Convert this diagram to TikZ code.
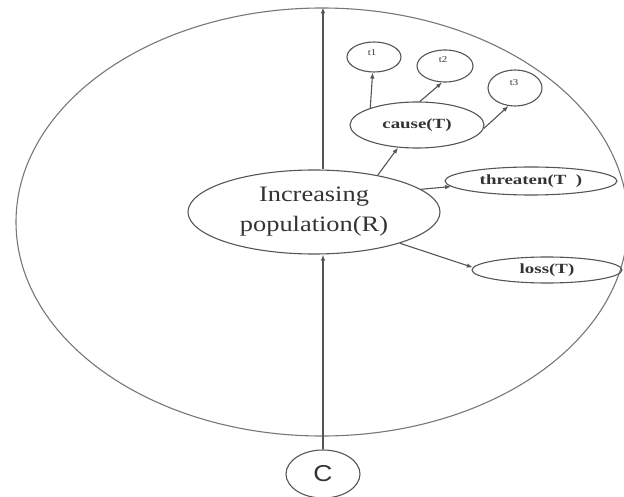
\documentclass[tikz,border=0pt]{standalone}
\usepackage{fontspec}
\setmainfont{Liberation Serif}
\newfontfamily\popfont[FakeStretch=1.2]{Liberation Serif}
\newfontfamily\labfont[FakeStretch=1.35]{Liberation Serif}
\newfontfamily\tfont[FakeStretch=1.2]{Liberation Serif}
\newfontfamily\cfont[FakeStretch=1.15]{Liberation Sans}
\usetikzlibrary{shapes.geometric,arrows.meta,calc}
\definecolor{ln}{HTML}{555555}
\definecolor{tx}{HTML}{333333}
\begin{document}
\begin{tikzpicture}[x=1pt,y=-1pt,
  oval/.style={draw=ln, line width=1.1pt, ellipse, inner sep=0pt, text=tx},
  conn/.style={draw=ln, line width=1.1pt, -{Latex[length=6pt,width=4.5pt]}},
  poptext/.style={font=\popfont\fontsize{22}{30}\selectfont, align=center},
  labtext/.style={font=\labfont\bfseries\fontsize{14}{14}\selectfont},
  ttext/.style={text=tx, inner sep=0pt, font=\tfont\fontsize{9}{9}\selectfont},
]
\useasboundingbox (0,0) rectangle (624,497);
% outer ellipse
\node[oval, draw=ln!80, minimum width=612pt, minimum height=428pt] (big) at (322,222) {};
% nodes
\node[oval, poptext, minimum width=252pt, minimum height=84pt] (pop) at (314,212) {Increasing\\population(R)};
\node[oval, minimum width=74pt, minimum height=48pt, font=\cfont\fontsize{23}{23}\selectfont] (C) at (323,474) {C};
\node[oval, labtext, minimum width=134pt, minimum height=46pt] (cause) at (417,125) {cause(T)};
\node[oval, labtext, minimum width=172pt, minimum height=28pt] (threaten) at (531,181) {threaten(T\ \ )};
\node[oval, labtext, minimum width=150pt, minimum height=26pt] (loss) at (547,270) {loss(T)};
\node[oval, minimum width=54pt, minimum height=30pt] (t1) at (374,57) {};
\node[oval, minimum width=56pt, minimum height=32pt] (t2) at (445,66) {};
\node[oval, minimum width=54pt, minimum height=36pt] (t3) at (515,88) {};
\node[ttext] (t1l) at (372,53) {t1};
\node[ttext] (t2l) at (443,60) {t2};
\node[ttext] (t3l) at (514,83) {t3};
% connectors
\draw[conn] (C.north) -- (pop.south -| C.north);
\draw[conn] (pop.north -| C.north) -- (big.north -| C.north);
\draw[conn] (pop.30) -- (cause.230);
\draw[conn] (cause.160) -- (t1.265);
\draw[conn] (cause.83) -- (t2.260);
\draw[conn] (cause.357) -- (t3.250);
\draw[conn] (pop.12) -- (threaten.184);
\draw[conn] (pop.-20) -- (loss.178);
\end{tikzpicture}
\end{document}
